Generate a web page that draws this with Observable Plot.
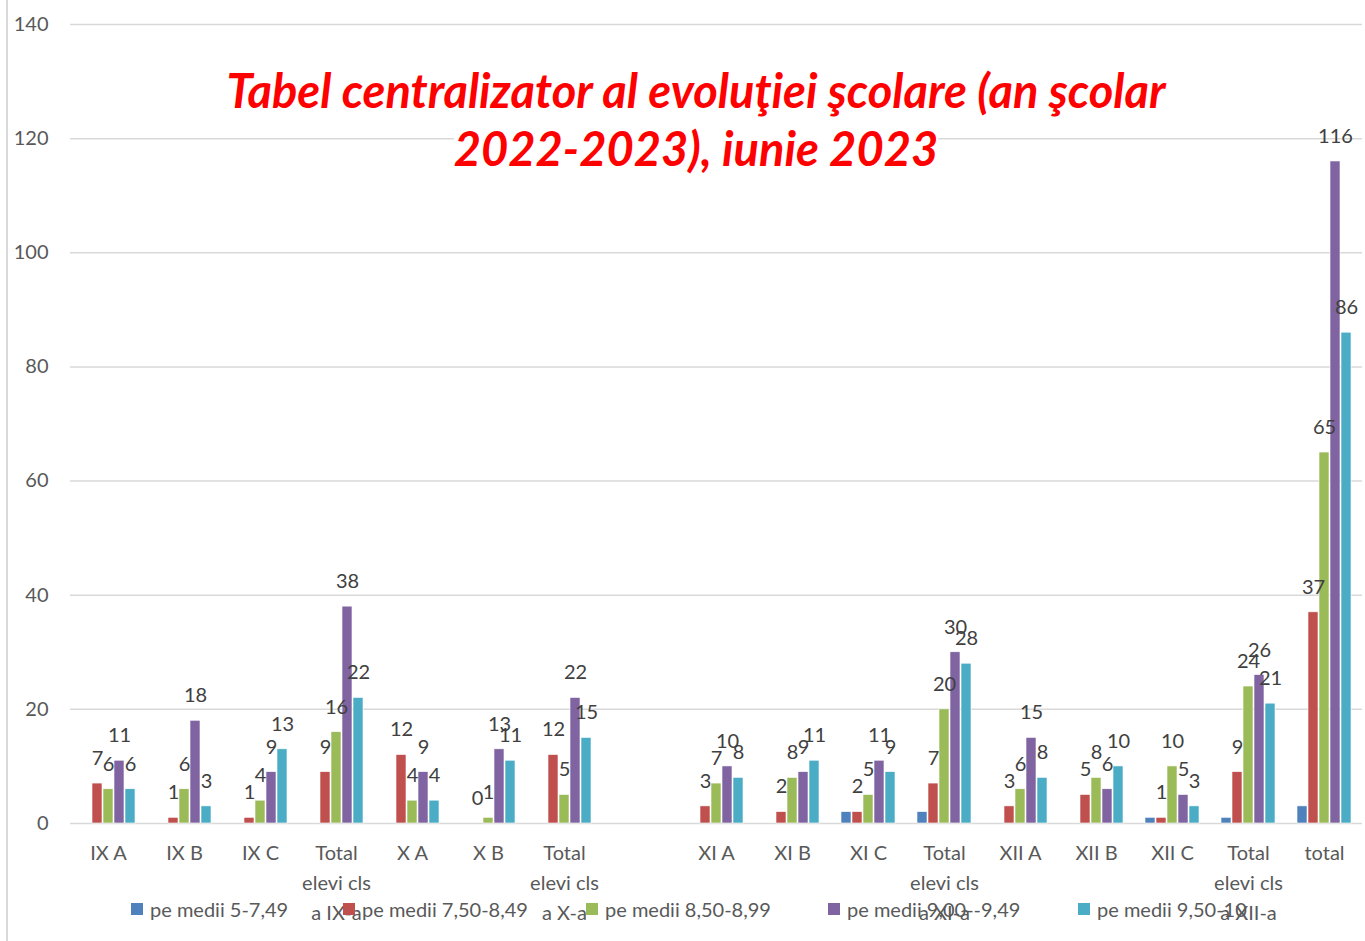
<!DOCTYPE html>
<html>
<head>
<meta charset="utf-8">
<script src="https://cdn.jsdelivr.net/npm/d3@7"></script>
<script src="https://cdn.jsdelivr.net/npm/@observablehq/plot@0.6"></script>
<style>
  body { margin: 0; background: #fff; font-family: Lato, "Open Sans", sans-serif; }
  #wrap { position: relative; width: 1365px; height: 941px; overflow: hidden; background: #fff; }
  #chart { position: absolute; left: 0; top: 0; }
  #border { position: absolute; left: 6px; top: 0; width: 2px; height: 941px; background: #d9d9d9; }
  #title { position: absolute; left: 0; width: 1392px; top: 61px; text-align: center; color: #ff0000;
           font-family: Lato, sans-serif; font-weight: bold; font-style: italic; font-size: 47px; line-height: 58px; }
  #title span { background: #fff; }
  .leg { position: absolute; top: 896px; display: flex; align-items: center; font-size: 20px; color: #595959; white-space: nowrap; line-height: 26px; }
  .leg i { display: inline-block; width: 12px; height: 12px; margin-right: 7px; }
</style>
</head>
<body>
<div id="wrap">
  <div id="chart"></div>
  <div id="border"></div>
  <div id="title"><span>Tabel centralizator al evoluţiei şcolare (an şcolar</span><br><span>2022-2023), iunie 2023</span></div>
</div>
<script>
// ---- data ----
const categories = ["IX A","IX B","IX C","Total IX","X A","X B","Total X","gap",
                    "XI A","XI B","XI C","Total XI","XII A","XII B","XII C","Total XII","total"];
const tickLabels = ["IX A","IX B","IX C","Total\nelevi cls\na IX-a","X A","X B","Total\nelevi cls\na X-a","",
                    "XI A","XI B","XI C","Total\nelevi cls\na XI-a","XII A","XII B","XII C","Total\nelevi cls\na XII-a","total"];
const seriesNames = ["pe medii 5-7,49","pe medii 7,50-8,49","pe medii 8,50-8,99","pe medii 9,00--9,49","pe medii 9,50-10"];
const blue   = [null,null,null,null,null,null,null,null,null,null,2,2,null,null,1,1,3];
const red    = [7,1,1,9,12,0,12,null,3,2,2,7,3,5,1,9,37];
const green  = [6,6,4,16,4,1,5,null,7,8,5,20,6,8,10,24,65];
const purple = [11,18,9,38,9,13,22,null,10,9,11,30,15,6,5,26,116];
const cyan   = [6,3,13,22,4,11,15,null,8,11,9,28,8,10,3,21,86];
const colors = ["#4f81bd","#c0504d","#9bbb59","#8064a2","#4bacc6"];
const yTicks = [0,20,40,60,80,100,120,140];

// ---- build table (null rows kept so every facet is non-empty) ----
const seriesValues = [blue, red, green, purple, cyan];
const rows = [];
categories.forEach((c, i) => {
  seriesValues.forEach((vals, s) => {
    rows.push({cat: c, series: seriesNames[s], value: vals[i], labeled: s > 0 && vals[i] != null});
  });
});
const labelMap = new Map(categories.map((c, i) => [c, tickLabels[i]]));

const chart = Plot.plot({
  width: 1365, height: 941,
  marginLeft: 66, marginRight: 0, marginTop: 24, marginBottom: 118,
  style: {fontFamily: "Lato, sans-serif", color: "#595959", background: "transparent", overflow: "visible"},
  fx: {domain: categories, padding: 0, label: null},
  x: {domain: seriesNames, paddingInner: 0.12, paddingOuter: 0.74, axis: null},
  y: {domain: [0, 140], label: null},
  color: {domain: seriesNames, range: colors},
  marks: [
    Plot.gridY(yTicks, {stroke: "#d9d9d9", strokeOpacity: 1, strokeWidth: 1.5}),
    Plot.axisY(yTicks, {tickSize: 0, tickPadding: 22, fontSize: 20, label: null}),
    Plot.axisFx({anchor: "bottom", tickSize: 0, tickPadding: 15, fontSize: 20, lineHeight: 1.5, label: null,
      tickFormat: d => labelMap.get(d)}),
    Plot.barY(rows, {fx: "cat", x: "series", y: "value", fill: "series", stroke: "#ffffff", strokeWidth: 0.6}),
    Plot.text(rows.filter(d => d.labeled), {fx: "cat", x: "series", y: "value", text: d => String(d.value),
      dy: -25, fontSize: 20, fill: "#404040"})
  ]
});
document.getElementById("chart").appendChild(chart);

// ---- legend (HTML, overlapping the bottom like the original) ----
const legendLeft = [131, 343, 586, 828, 1078];
const wrap = document.getElementById("wrap");
seriesNames.forEach((name, i) => {
  const d = document.createElement("div");
  d.className = "leg";
  d.style.left = legendLeft[i] + "px";
  d.innerHTML = `<i style="background:${colors[i]}"></i><span>${name}</span>`;
  wrap.appendChild(d);
});
</script>
</body>
</html>
